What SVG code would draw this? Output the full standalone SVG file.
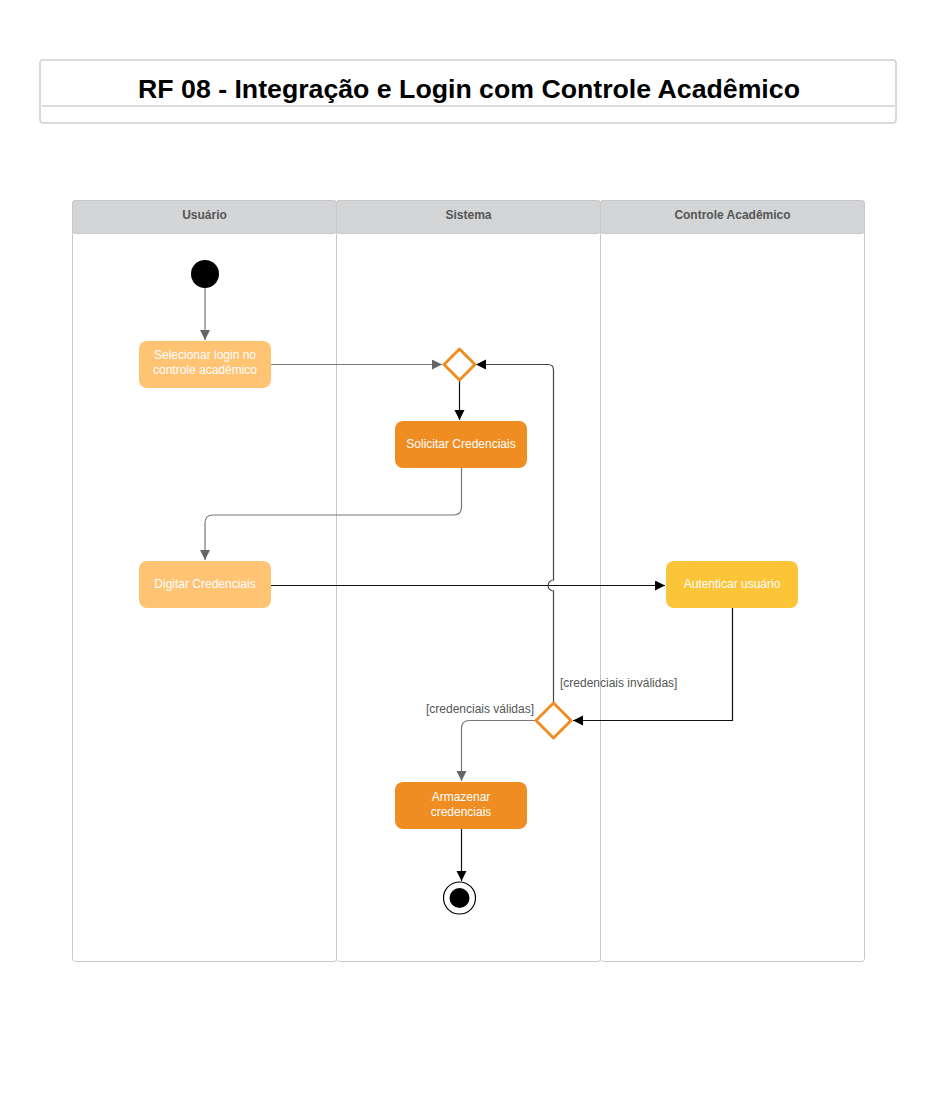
<svg xmlns="http://www.w3.org/2000/svg" width="947" height="1114" viewBox="0 0 947 1114">
<style>
.lane{fill:#fff;stroke:#c8c8c8;stroke-width:1}
.hdr{fill:#d4d5d7;stroke:#c8c8c8;stroke-width:1}
.htxt{font-family:"Liberation Sans",Arial,sans-serif;font-size:12px;font-weight:bold;fill:#555;text-anchor:middle}
.ntxt{font-family:"Liberation Sans",Arial,sans-serif;font-size:12px;fill:#fff;text-anchor:middle}
.lbl{font-family:"Liberation Sans",Arial,sans-serif;font-size:12px;fill:#555}
.c{fill:none;stroke-width:1.2}
.g{stroke:#777}
.k{stroke:#111}
.dia{fill:#fff;stroke:#ef8d22;stroke-width:3;stroke-linejoin:round}
</style>
<defs>
<marker id="ag" markerWidth="12" markerHeight="12" refX="10" refY="5" orient="auto" markerUnits="userSpaceOnUse"><path d="M0,0 L10,5 L0,10 Z" fill="#666"/></marker>
<marker id="ak" markerWidth="12" markerHeight="12" refX="10" refY="5" orient="auto" markerUnits="userSpaceOnUse"><path d="M0,0 L10,5 L0,10 Z" fill="#000"/></marker>
</defs>
<rect width="947" height="1114" fill="#fff"/>
<g id="title">
<rect x="40" y="60" width="856" height="63" rx="3" fill="#fff" stroke="#d0d0d0" stroke-width="1.5"/>
<line x1="42" y1="106" x2="895" y2="106" stroke="#d0d0d0" stroke-width="1.5"/>
<text x="469" y="98" font-family="'Liberation Sans',Arial,sans-serif" font-size="26.7" font-weight="bold" fill="#000" text-anchor="middle">RF 08 - Integração e Login com Controle Acadêmico</text>
</g>
<g id="lanes">
<rect class="lane" x="72.5" y="200.5" width="264" height="761" rx="3"/>
<rect class="lane" x="336.5" y="200.5" width="264" height="761" rx="3"/>
<rect class="lane" x="600.5" y="200.5" width="264" height="761" rx="3"/>
<rect class="hdr" x="72.5" y="200.5" width="264" height="33" rx="3"/>
<rect class="hdr" x="336.5" y="200.5" width="264" height="33" rx="3"/>
<rect class="hdr" x="600.5" y="200.5" width="264" height="33" rx="3"/>
<text class="htxt" x="204.5" y="219">Usuário</text>
<text class="htxt" x="468.5" y="219">Sistema</text>
<text class="htxt" x="732.5" y="219">Controle Acadêmico</text>
</g>
<g id="connectors">
<path class="c g" d="M205,288 V340" marker-end="url(#ag)"/>
<path class="c g" d="M271,364.5 H442" marker-end="url(#ag)"/>
<path class="c k" d="M459.5,381 V420" marker-end="url(#ak)"/>
<path class="c g" d="M461.5,468 V507 Q461.5,515 453.5,515 H213 Q205,515 205,523 V560" marker-end="url(#ag)"/>
<path class="c k" d="M271,585.5 H665" marker-end="url(#ak)"/>
<path class="c k" d="M732.5,608 V720.5 H573" marker-end="url(#ak)"/>
<path class="c" stroke="#444" d="M553.5,702 V591 A5,5 0 0 1 553.5,580 V370 Q553.5,364.5 548,364.5 H476" marker-end="url(#ak)"/>
<path class="c g" d="M535,720.5 H469.5 Q461.5,720.5 461.5,728.5 V781" marker-end="url(#ag)"/>
<path class="c k" d="M461.5,829 V881" marker-end="url(#ak)"/>
<text class="lbl" x="560" y="687">[credenciais inválidas]</text>
<text class="lbl" x="426" y="713">[credenciais válidas]</text>
</g>
<g id="start"><circle cx="205" cy="274" r="14" fill="#000"/></g>
<g id="selecionar">
<rect x="139" y="341" width="132" height="47" rx="8" fill="#ffc374"/>
<text class="ntxt" x="205" y="359">Selecionar login no</text>
<text class="ntxt" x="205" y="374">controle acadêmico</text>
</g>
<g id="merge"><path class="dia" d="M459.5,349 L475,364.5 L459.5,380 L444,364.5 Z"/></g>
<g id="solicitar">
<rect x="395" y="421" width="132" height="47" rx="8" fill="#ef8d22"/>
<text class="ntxt" x="461" y="448">Solicitar Credenciais</text>
</g>
<g id="digitar">
<rect x="139" y="561" width="132" height="47" rx="8" fill="#ffc374"/>
<text class="ntxt" x="205" y="588">Digitar Credenciais</text>
</g>
<g id="autenticar">
<rect x="666" y="561" width="132" height="47" rx="8" fill="#fcc438"/>
<text class="ntxt" x="732" y="588">Autenticar usuário</text>
</g>
<g id="decision"><path class="dia" d="M553.5,703 L571,720.5 L553.5,738 L536,720.5 Z"/></g>
<g id="armazenar">
<rect x="395" y="782" width="132" height="47" rx="8" fill="#ef8d22"/>
<text class="ntxt" x="461" y="801">Armazenar</text>
<text class="ntxt" x="461" y="816">credenciais</text>
</g>
<g id="end">
<circle cx="459.5" cy="898" r="16" fill="#fff" stroke="#000" stroke-width="1.2"/>
<circle cx="459.5" cy="898" r="10" fill="#000"/>
</g>
</svg>
